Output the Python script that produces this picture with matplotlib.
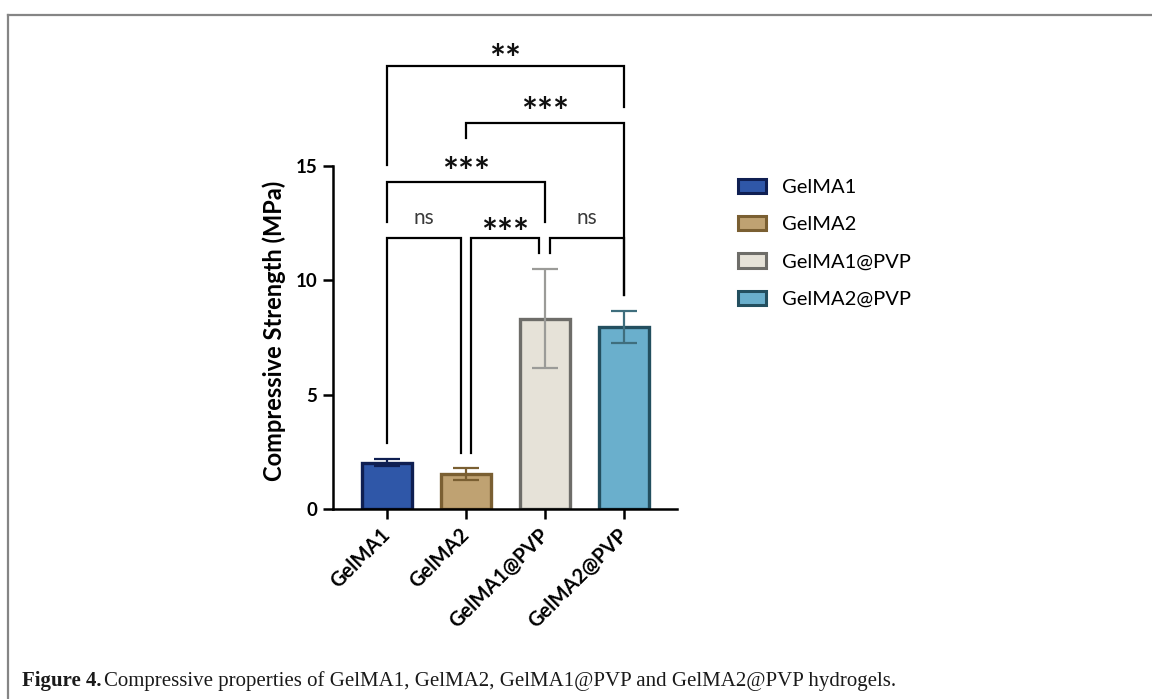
import matplotlib
matplotlib.use("Agg")
import matplotlib.pyplot as plt
import numpy as np
from matplotlib.patches import Patch
from matplotlib.lines import Line2D

groups = ["GelMA1", "GelMA2", "GelMA1@PVP", "GelMA2@PVP"]
strength = [2.03, 1.52, 8.33, 7.95]
strength_sd = [0.17, 0.27, 2.17, 0.70]

# significance brackets: (left group, right group, label)
comparisons = [(0, 3, "**"), (1, 3, "***"), (0, 2, "***"),
               (0, 1, "ns"), (1, 2, "***"), (2, 3, "ns")]

fills = ["#2f57a8", "#bfa272", "#e6e2d8", "#6aafcc"]
edges = ["#0f1f52", "#7a5f32", "#6e6d69", "#234f5f"]
err_colors = ["#0f1f52", "#7a5f32", "#9b9b98", "#3f6e7d"]

plt.rcParams["font.family"] = ["Lato", "DejaVu Sans"]

fig = plt.figure(figsize=(11.52, 6.99), dpi=100)
ax = fig.add_axes([333 / 1152, 190 / 699, 344 / 1152, 480 / 699])

x = np.arange(len(groups))
ax.bar(x, strength, width=0.64, color=fills, edgecolor=edges, linewidth=2.4, zorder=2)
for i in range(len(groups)):
    ax.errorbar(x[i], strength[i], yerr=strength_sd[i], fmt="none", ecolor=err_colors[i],
                elinewidth=1.6, capsize=9.5, capthick=1.6, zorder=3)

ax.set_xlim(-0.684, 3.67)
ax.set_ylim(0, 21)
ax.set_yticks([0, 5, 10, 15])
ax.spines["left"].set_bounds(0, 15)
for s in ["top", "right"]:
    ax.spines[s].set_visible(False)
for s in ["left", "bottom"]:
    ax.spines[s].set_linewidth(1.8)
ax.tick_params(axis="both", length=7.5, width=1.8, labelsize=13.5, pad=4)
ax.tick_params(axis="x", labelsize=14.5, pad=9)
ax.set_xticks(x)
ax.set_xticklabels(groups, rotation=45, ha="right", va="center",
                   rotation_mode="anchor", fontweight="bold")
for t in ax.get_yticklabels():
    t.set_fontweight("bold")
ax.set_ylabel("Compressive Strength (MPa)", fontsize=17, fontweight="bold")
# centre the label on the drawn part of the y spine (0-15)
ax.yaxis.set_label_coords(-0.136, 7.81 / 21)

# bracket geometry: (x left, x right, bar height, left foot, right foot, label x, label y)
bracket_geom = [
    (0.0, 3.0, 19.37, 15.04, 17.58, 1.5, 19.58),
    (1.0, 3.0, 16.88, 16.22, 9.36, 2.0, 17.27),
    (0.0, 2.0, 14.30, 12.55, 12.55, 1.0, 14.65),
    (0.0, 0.94, 11.85, 2.89, 2.45, 0.46, 12.75),
    (1.06, 1.92, 11.85, 2.45, 11.20, 1.49, 12.0),
    (2.06, 3.0, 11.85, 11.20, 9.36, 2.53, 12.75),
]
for (i, j, lab), (xl, xr, h, fl, fr, lx, ly) in zip(comparisons, bracket_geom):
    ax.plot([xl, xl, xr, xr], [fl, h, h, fr], color="black", lw=1.6,
            solid_joinstyle="miter", clip_on=False, zorder=4)
    if lab == "ns":
        ax.text(lx, ly, lab, ha="center", va="center", fontsize=15, color="#3a3a3a")
    else:
        ax.text(lx, ly, lab, ha="center", va="center", fontsize=27,
                fontweight="bold", color="#111111")

handles = [Patch(facecolor=f, edgecolor=e, linewidth=2.2) for f, e in zip(fills, edges)]
fig.legend(handles, groups, loc="upper left", bbox_to_anchor=(738 / 1152, 1 - 179 / 699),
           frameon=False, fontsize=14.5, handlelength=1.4, handleheight=0.7,
           handletextpad=0.8, labelspacing=1.0, borderpad=0, borderaxespad=0)

# page frame
fig.add_artist(Line2D([7.5 / 1152, 1], [1 - 14.5 / 699] * 2, color="#858585", lw=1.6))
fig.add_artist(Line2D([7.5 / 1152] * 2, [0, 1 - 14.5 / 699], color="#858585", lw=1.6))

cap1 = fig.text(22 / 1152, 8 / 699, "Figure 4.", fontsize=15, fontweight="bold",
                family="Liberation Serif", va="bottom", color="#1a1a1a")
ax.annotate("Compressive properties of GelMA1, GelMA2, GelMA1@PVP and GelMA2@PVP hydrogels.",
            xy=(1, 0), xycoords=cap1, xytext=(2, 0), textcoords="offset points",
            va="bottom", ha="left", fontsize=15, family="Liberation Serif", color="#1a1a1a",
            annotation_clip=False)

fig.savefig("out.png", dpi=100)
